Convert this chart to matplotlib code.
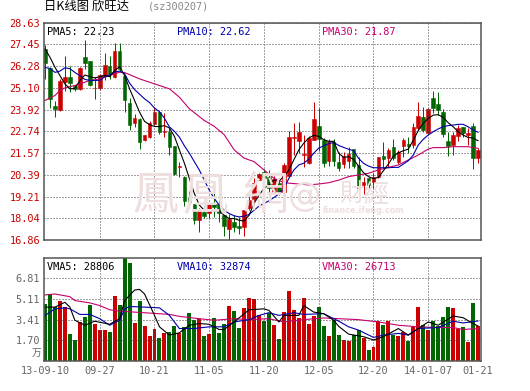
import matplotlib
matplotlib.use('Agg')
import matplotlib.pyplot as plt
import numpy as np

RED = '#cc0000'
GREEN = '#006600'
BLUE = '#0000aa'
PINK = '#c4006c'
GRID = '#444444'
MARK = '#eedede'
CJK = ['Noto Sans CJK SC', 'DejaVu Sans']
TC = ['Noto Sans CJK TC', 'DejaVu Sans']
MONO = 'DejaVu Sans Mono'

# daily candles
opens = [27.2, 26.17, 24.1, 23.87, 25.43, 25.69, 25.2, 25.04, 26.75, 26.55,
         25.07, 25.1, 25.74, 26.28, 25.7, 27.1, 25.76, 24.28, 23.2, 23.42,
         22.28, 22.46, 23.15, 23.8, 22.72, 22.7, 21.92, 20.82, 20.29, 19.13,
         18.8, 17.93, 18.38, 18.3, 18.8, 18.8, 18.2, 17.44, 17.84, 17.62,
         17.57, 18.57, 19.06, 20.1, 20.56, 20.25, 19.47, 19.93, 19.47, 20.33,
         22.4, 22.2, 21.45, 21.0, 22.25, 23.05, 22.25, 21.16, 22.14, 21.07,
         20.97, 21.13, 21.77, 20.92, 19.83, 20.21, 19.99, 20.25, 21.4, 21.28,
         21.89, 21.1, 21.95, 22.07, 22.0, 22.9, 23.53, 22.67, 24.55, 24.22,
         23.79, 22.22, 22.0, 22.49, 22.97, 22.54, 23.03, 21.31]
closes = [26.43, 24.5, 23.97, 25.49, 25.7, 25.36, 25.04, 26.17, 26.44, 25.25,
          25.1, 25.8, 26.35, 25.85, 27.1, 26.12, 24.44, 23.06, 23.47, 22.16,
          22.52, 23.2, 23.76, 22.7, 22.76, 21.9, 20.45, 20.86, 18.97, 18.9,
          17.93, 18.44, 18.15, 18.8, 18.62, 18.33, 17.6, 17.98, 17.57, 17.5,
          18.47, 19.02, 19.96, 20.43, 20.24, 19.7, 20.14, 19.47, 20.94, 22.41,
          22.46, 22.7, 21.5, 22.38, 23.43, 22.3, 21.05, 22.2, 21.16, 20.74,
          21.4, 21.51, 20.86, 19.65, 20.0, 19.83, 20.25, 21.33, 21.24, 21.73,
          21.28, 21.62, 22.27, 21.96, 23.0, 23.57, 22.81, 23.93, 24.0, 23.9,
          22.6, 21.95, 22.54, 22.9, 22.63, 22.63, 21.31, 21.73]
highs = [27.41, 26.2, 24.4, 25.55, 26.84, 26.3, 25.25, 26.2, 27.7, 26.57,
         25.7, 25.85, 26.97, 26.84, 27.52, 27.52, 25.76, 24.55, 23.7, 23.45,
         22.55, 23.3, 24.05, 23.85, 23.72, 22.9, 21.95, 21.07, 20.3, 19.5,
         18.8, 18.57, 18.75, 18.8, 19.65, 19.02, 18.2, 18.24, 18.2, 18.1,
         18.47, 19.35, 20.2, 20.5, 20.7, 20.65, 20.3, 20.1, 21.0, 22.78,
         23.2, 23.23, 22.56, 22.5, 24.35, 24.03, 22.38, 22.3, 22.32, 21.6,
         21.64, 21.91, 21.77, 21.33, 20.29, 20.29, 20.47, 21.37, 22.14, 21.82,
         22.31, 21.73, 22.36, 22.45, 23.17, 24.33, 24.08, 23.99, 24.92, 24.85,
         23.93, 22.72, 22.72, 23.08, 23.0, 22.9, 23.2, 21.82]
lows = [25.55, 24.0, 23.5, 23.85, 24.95, 24.86, 24.9, 24.98, 26.12, 25.2,
        24.5, 25.0, 25.5, 25.58, 25.63, 26.03, 23.78, 22.8, 22.97, 21.8,
        22.2, 22.4, 23.1, 22.6, 22.45, 21.45, 20.4, 20.25, 18.7, 18.7,
        17.7, 17.3, 18.06, 18.06, 18.1, 17.84, 17.06, 16.86, 17.3, 17.2,
        17.1, 18.47, 18.57, 20.1, 19.84, 18.93, 19.42, 19.29, 19.42, 20.29,
        21.47, 21.56, 20.83, 20.95, 22.25, 21.65, 20.83, 20.87, 20.89, 20.6,
        20.74, 20.74, 20.74, 19.29, 19.35, 19.65, 19.65, 20.2, 20.74, 20.83,
        21.19, 20.97, 21.37, 21.55, 21.82, 22.81, 22.72, 22.63, 23.71, 23.62,
        22.45, 21.4, 21.46, 22.23, 22.45, 21.99, 20.7, 21.0]

pma5 = [27.2, 26.75, 26.21, 25.76, 25.31, 25.04, 25.06, 25.49, 25.79, 25.7,
        25.63, 25.7, 25.76, 25.7, 26.03, 26.24, 25.76, 25.04, 24.41, 23.78,
        23.28, 23.1, 23.0, 23.0, 23.05, 22.92, 22.47, 21.74, 21.02, 20.2,
        19.38, 18.75, 18.47, 18.44, 18.44, 18.44, 18.2, 18.02, 18.02, 17.93,
        17.89, 18.2, 18.84, 19.29, 19.65, 19.84, 20.11, 20.05, 20.29, 20.65,
        21.2, 21.74, 22.1, 22.38, 22.52, 22.47, 22.29, 22.2, 22.2, 21.56,
        21.33, 21.37, 21.22, 20.86, 20.5, 20.29, 20.18, 20.25, 20.61, 20.97,
        21.4, 21.58, 21.69, 21.78, 22.27, 22.78, 23.17, 23.44, 23.62, 23.64,
        23.5, 23.21, 22.99, 22.72, 22.54, 22.41, 22.38, 22.23]
pma10 = [26.2, 26.14, 25.93, 26.0, 26.18, 26.13, 25.93, 25.75, 25.55, 25.5,
         25.49, 25.5, 25.7, 25.8, 25.95, 26.0, 25.85, 25.35, 25.0, 24.75,
         24.5, 24.3, 24.0, 23.8, 23.45, 22.98, 22.74, 22.43, 21.96, 21.56,
         21.1, 20.65, 20.11, 19.56, 19.11, 18.75, 18.47, 18.29, 18.17, 18.11,
         18.15, 18.24, 18.47, 18.69, 18.84, 18.98, 19.16, 19.35, 19.65, 20.2,
         20.65, 20.92, 21.02, 21.23, 21.56, 21.83, 21.96, 22.07, 22.14, 21.98,
         21.87, 21.77, 21.69, 21.28, 21.01, 20.86, 20.77, 20.77, 20.77, 20.77,
         20.79, 20.79, 20.97, 21.15, 21.46, 22.0, 22.31, 22.54, 22.72, 22.87,
         22.99, 23.05, 23.08, 23.12, 23.12, 22.99, 22.81, 22.69]
pma30_days = [0, 1, 2, 3, 4, 5, 6, 7, 8, 9, 11, 13, 14, 15, 16, 17, 19, 21, 23, 25, 27, 29,
              32, 34, 36, 38, 40, 42, 44, 46, 48, 51, 53, 55, 57, 59, 61, 63, 65, 67, 69,
              71, 73, 75, 77, 78, 80, 82, 85, 87]
pma30 = [24.41, 24.55, 24.68, 24.95, 25.09, 25.16, 25.22, 25.31, 25.4, 25.49, 25.58, 25.76,
         25.85, 25.94, 25.92, 25.81, 25.58, 25.4, 25.22, 25.04, 24.59, 23.96, 23.33, 23.01,
         22.56, 21.74, 21.29, 21.1, 20.65, 20.2, 19.96, 19.89, 19.84, 19.89, 19.96, 20.1,
         20.29, 20.38, 20.47, 20.65, 20.79, 20.92, 21.19, 21.46, 21.78, 21.86, 21.86, 21.91,
         21.91, 21.82]

# volume, in units of 10000 hands
volumes = [4.7, 5.51, 4.43, 4.97, 4.43, 2.21, 1.73, 3.21, 3.62, 4.64,
           3.02, 2.54, 2.54, 2.38, 5.37, 4.64, 8.6, 8.05, 3.13, 4.97,
           2.86, 2.05, 2.62, 1.89, 2.32, 2.38, 2.88, 2.3, 2.77, 3.92,
           3.37, 3.43, 2.05, 2.21, 3.51, 2.32, 3.02, 4.56, 4.08, 2.75,
           4.32, 5.21, 5.08, 3.75, 3.29, 3.94, 2.94, 1.81, 4.0, 5.78,
           4.16, 3.51, 5.21, 3.02, 3.67, 4.4, 2.86, 2.05, 3.35, 2.13,
           1.73, 1.67, 2.13, 2.54, 1.86, 0.92, 1.16, 3.27, 2.94, 3.27,
           2.13, 2.05, 2.38, 1.65, 2.78, 4.48, 2.94, 2.54, 3.27, 2.86,
           3.59, 4.48, 4.32, 2.62, 2.78, 1.57, 4.73, 2.86]
vma5_days = [0, 2, 4, 5, 6, 8, 10, 13, 15, 16, 18, 19, 20, 22, 23, 25, 27, 29, 31, 33, 35, 36,
             38, 41, 44, 45, 47, 48, 51, 52, 54, 56, 58, 59, 61, 64, 66, 68, 71, 73, 75, 77,
             79, 82, 84, 86, 87]
vma5 = [4.43, 4.43, 4.83, 4.43, 3.35, 2.94, 3.27, 3.02, 3.48, 4.97, 5.83, 5.89, 5.51, 3.75,
        2.81, 2.13, 2.32, 2.94, 3.08, 3.02, 2.59, 2.59, 3.21, 4.21, 4.29, 4.16, 3.21, 3.75,
        3.75, 4.56, 4.02, 3.89, 3.35, 2.85, 2.21, 2.0, 1.73, 2.0, 2.67, 2.13, 2.67, 3.21,
        2.94, 3.7, 3.56, 3.08, 2.88]
vma10_days = [0, 2, 4, 5, 7, 9, 11, 13, 15, 16, 17, 20, 23, 25, 27, 30, 33, 36, 38, 41, 43,
              45, 47, 50, 52, 56, 59, 61, 63, 66, 68, 71, 73, 75, 79, 82, 84, 87]
vma10 = [3.75, 4.29, 4.37, 4.29, 3.83, 3.83, 3.48, 2.94, 3.35, 4.29, 4.48, 4.43, 4.37, 3.75,
         2.67, 2.67, 2.81, 2.81, 3.21, 3.4, 3.75, 3.97, 3.75, 3.97, 3.83, 3.89, 3.28, 2.81,
         2.54, 1.94, 2.13, 2.27, 2.13, 2.67, 2.75, 3.27, 3.13, 3.29]
vma30_days = [0, 2, 5, 6, 9, 11, 13, 15, 18, 21, 25, 27, 31, 34, 38, 41, 45, 48, 52, 56, 59,
              63, 67, 71, 75, 79, 82, 84, 87]
vma30 = [5.43, 5.51, 5.29, 4.97, 4.78, 4.56, 4.21, 4.1, 4.02, 3.94, 3.83, 3.67, 3.48, 3.35,
         3.48, 3.4, 3.48, 3.21, 3.4, 3.54, 3.48, 3.4, 3.21, 2.94, 2.81, 2.75, 2.75, 2.59, 2.67]

price_ticks = [16.86, 18.04, 19.21, 20.39, 21.57, 22.74, 23.92, 25.10, 26.28, 27.45, 28.63]
vol_ticks = [1.70, 3.41, 5.11, 6.81]
tick_days = [0, 11, 22, 33, 44, 55, 66, 77, 87]
tick_dates = ['13-09-10', '09-27', '10-21', '11-05', '11-20', '12-05', '12-20', '14-01-07', '01-21']
grid_days = tick_days[1:-1]

W, H = 530, 391


def px(x, y):
    return x / W, 1 - y / H


def panel(top, bottom):
    ax = fig.add_axes([43.5 / W, 1 - bottom / H, 437.5 / W, (bottom - top) / H])
    ax.set_xlim(-0.3, 87.6)
    for s in ax.spines.values():
        s.set_color('#555555')
        s.set_linewidth(1.1)
        s.set_zorder(10)
    ax.set_xticks(grid_days)
    ax.set_xticklabels([])
    ax.tick_params(length=0)
    ax.grid(True, linestyle=(0, (1, 2)), color=GRID, linewidth=0.72, zorder=3)
    ax.set_axisbelow(False)
    ax.patch.set_alpha(0)
    return ax


def thin_line(ax, x, y, color):
    ax.plot(x, y, color=color, linewidth=0.8, zorder=5)


fig = plt.figure(figsize=(W / 100, H / 100), dpi=100, facecolor='white')

# watermark sits behind both panels
for txt, x, y, size in [('鳳', 155, 196, 33), ('凰', 205, 196, 33), ('網', 265, 196, 33),
                        ('財', 352, 195, 18), ('經', 376, 195, 18)]:
    fig.text(*px(x, y), txt, family=TC, fontsize=size, color=MARK, ha='center', va='center')
fig.text(*px(305, 197), '@', family='DejaVu Sans', fontsize=24, color=MARK, ha='center', va='center')
fig.text(*px(364, 211), 'finance.ifeng.com', family='DejaVu Sans', fontsize=5.8, color=MARK, ha='center', va='center', fontweight='bold')

days = np.arange(len(opens))
o = np.array(opens)
c = np.array(closes)
colors = [RED if b >= a else GREEN for a, b in zip(opens, closes)]

ax = panel(22.5, 240)
ax.set_ylim(price_ticks[0], price_ticks[-1])
ax.vlines(days, lows, highs, colors=colors, linewidth=0.72, zorder=2)
ax.bar(days, np.abs(c - o), bottom=np.minimum(o, c), width=0.72, color=colors,
       edgecolor=colors, linewidth=0.4, zorder=2)
thin_line(ax, pma30_days, pma30, PINK)
thin_line(ax, days, pma10, BLUE)
thin_line(ax, days, pma5, 'black')
ax.set_yticks(price_ticks)
ax.set_yticklabels(['%.2f' % v for v in price_ticks], family=MONO, fontsize=7.4, color=RED)
ax.tick_params(pad=2.5)

vax = panel(257.5, 361)
vax.set_ylim(0, 8.51)
vax.bar(days, volumes, width=0.8, color=colors, linewidth=0, zorder=2)
thin_line(vax, vma30_days, vma30, PINK)
thin_line(vax, vma10_days, vma10, BLUE)
thin_line(vax, vma5_days, vma5, 'black')
vax.set_yticks(vol_ticks)
vax.set_yticklabels(['%.2f' % v for v in vol_ticks], family=MONO, fontsize=7.4, color='#666666')
vax.tick_params(pad=2.5)
for d, lab in zip(tick_days, tick_dates):
    fig.text(*px(45 + d * 4.977, 370.5), lab, family=MONO, fontsize=7.4, color='#666666', ha='center', va='center')
fig.text(*px(41, 353), '万', family=CJK, fontsize=7, color='#666666', ha='right', va='center')

# header and moving average readouts
fig.text(*px(44, 7.5), '日K线图 欣旺达', family=CJK, fontsize=8.9, color='black', ha='left', va='center')
fig.text(*px(148, 6.5), '(sz300207)', family=MONO, fontsize=7.4, color='#888888', ha='left', va='center')
for y, texts in [(32, ['PMA5: 22.23', 'PMA10: 22.62', 'PMA30: 21.87']),
                 (267, ['VMA5: 28806', 'VMA10: 32874', 'VMA30: 26713'])]:
    for txt, x, col in zip(texts, [47, 177, 322], ['black', BLUE, PINK]):
        fig.text(*px(x, y), txt, family=MONO, fontsize=7.4, color=col, ha='left', va='center', zorder=11)

fig.savefig('out.png', dpi=100)
